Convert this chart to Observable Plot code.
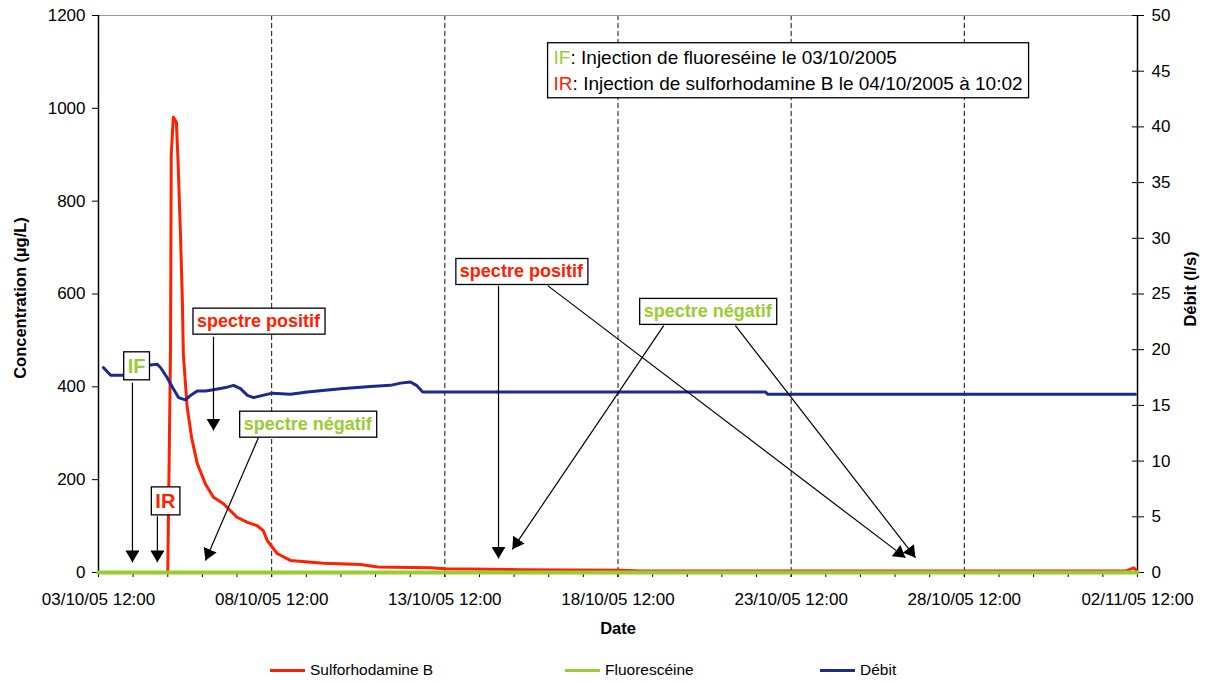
<!DOCTYPE html>
<html>
<head>
<meta charset="utf-8">
<script src="https://cdn.jsdelivr.net/npm/d3@7"></script>
<script src="https://cdn.jsdelivr.net/npm/@observablehq/plot@0.6"></script>
<style>
  body { margin: 0; background: #fff; font-family: "Liberation Sans", Arial, sans-serif; }
  #legend { position: relative; width: 1208px; height: 34px; font-size: 15.5px; color: #000; }
  #legend .item { position: absolute; top: 10px; display: flex; align-items: center; height: 20px; }
  #legend .sw { width: 35px; height: 3px; margin-right: 5px; }
</style>
</head>
<body>
<div id="chart"></div>
<div id="legend"></div>
<script>
// ---------- DATA ----------
const startDate = "2005-10-03T12:00:00Z";      // first x tick
const spanDays = 30;                             // to 02/11/05 12:00

// Sulforhodamine B (µg/L), day offsets from startDate
const sulfoDays = [2.00, 2.08, 2.10, 2.16, 2.25, 2.30, 2.37, 2.42, 2.45, 2.56, 2.69, 2.85, 3.09, 3.32, 3.61, 4.00, 4.30, 4.58, 4.76, 4.87, 5.16, 5.54, 6.50, 7.57, 8.06, 9.59, 10.0, 12.19, 15.07, 15.65, 29.66, 29.89, 29.97];
const sulfoValues = [0, 485, 900, 981, 970, 880, 720, 590, 470, 356, 290, 235, 190, 162, 148, 119, 108, 101, 90, 69, 41, 26, 20, 17, 12, 10, 8, 6, 5, 3, 3, 10, 4];

// Fluorescéine (µg/L)
const fluoDays = [0, 30];
const fluoValues = [0, 0];

// Débit (l/s)
const debitDays = [0.14, 0.35, 0.69, 1.00, 1.21, 1.44, 1.69, 1.79, 1.98, 2.14, 2.31, 2.51, 2.66, 2.85, 3.09, 3.32, 3.67, 3.90, 4.10, 4.30, 4.48, 4.74, 5.02, 5.54, 6.03, 6.99, 7.85, 8.43, 8.72, 9.01, 9.18, 9.36, 19.26, 19.32, 29.94];
const debitValues = [18.4, 17.7, 17.7, 17.9, 18.3, 18.6, 18.7, 18.4, 17.5, 16.6, 15.7, 15.5, 15.9, 16.3, 16.3, 16.4, 16.6, 16.8, 16.5, 15.9, 15.7, 15.9, 16.1, 16.0, 16.2, 16.5, 16.7, 16.8, 17.0, 17.1, 16.8, 16.2, 16.2, 16.0, 16.0];

// axis ticks
const concTicks = [0, 200, 400, 600, 800, 1000, 1200];
const debitTicks = [0, 5, 10, 15, 20, 25, 30, 35, 40, 45, 50];
const labelTickDays = [0, 5, 10, 15, 20, 25, 30];
const gridDays = [5, 10, 15, 20, 25];

// annotations (boxed labels) : day offset, concentration value
const noteLabels = ["IF", "IR", "spectre positif", "spectre négatif", "spectre positif", "spectre négatif"];
const noteKinds = ["F", "R", "R", "F", "R", "F"];
const noteDays = [1.10, 1.93, 4.62, 6.04, 12.21, 17.59];
const noteValues = [444, 153, 541, 319, 648, 562];
const noteBig = [true, true, false, false, false, false];

// arrows : from (day, value) to (day, value)
const arrowFromDays = [0.98, 1.70, 3.32, 4.62, 11.55, 12.97, 16.32, 18.39];
const arrowFromValues = [409, 121, 508, 291, 618, 618, 532, 532];
const arrowToDays = [0.98, 1.70, 3.32, 3.09, 11.55, 23.30, 11.95, 23.59];
const arrowToValues = [22, 22, 306, 26, 30, 32, 50, 32];

// injection note
const injectionNote = "IF: Injection de fluoreséine le 03/10/2005\nIR: Injection de sulforhodamine B le 04/10/2005 à 10:02";
const injectionNoteDay = 13.14;
const injectionNoteValue = 1086;

const seriesNames = ["Sulforhodamine B", "Fluorescéine", "Débit"];

// ---------- STYLE ----------
const RED = "#ff2000", GREEN = "#99cc33", BLUE = "#1c2a8c";
const kindColor = {R: RED, F: GREEN};
const DEBIT_FACTOR = 1200 / 50;

// ---------- BUILD ----------
const t0 = new Date(startDate).getTime();
const DAY = 864e5;
const at = d => new Date(t0 + d * DAY);

const sulfo = sulfoDays.map((d, i) => ({date: at(d), v: sulfoValues[i]}));
const fluo = fluoDays.map((d, i) => ({date: at(d), v: fluoValues[i]}));
const debit = debitDays.map((d, i) => ({date: at(d), v: debitValues[i] * DEBIT_FACTOR}));
const notes = noteLabels.map((l, i) => ({label: l, color: kindColor[noteKinds[i]], date: at(noteDays[i]), v: noteValues[i], big: noteBig[i]}));
const arrows = arrowFromDays.map((d, i) => ({x1: at(d), y1: arrowFromValues[i], x2: at(arrowToDays[i]), y2: arrowToValues[i]}));
const dailyTicks = d3.range(0, spanDays + 1).map(at);
const labelTicks = labelTickDays.map(at);
const fmt = d3.utcFormat("%d/%m/%y %H:%M");

const plot = Plot.plot({
  width: 1208,
  height: 650,
  marginLeft: 98,
  marginRight: 71,
  marginTop: 15,
  marginBottom: 78,
  style: {fontFamily: '"Liberation Sans", Arial, sans-serif', fontSize: "17px", color: "#000", background: "#fff"},
  x: {type: "utc", domain: [at(0), at(spanDays)]},
  y: {domain: [0, 1200]},
  marks: [
    Plot.ruleX(gridDays.map(at), {stroke: "#111", strokeWidth: 1, strokeDasharray: "5,3"}),
    Plot.ruleY([1200], {stroke: "#999", strokeWidth: 1}),
    Plot.ruleY([0], {stroke: "#000", strokeWidth: 1}),
    Plot.ruleX([at(0), at(spanDays)], {stroke: "#000", strokeWidth: 1.5}),
    Plot.axisY({anchor: "left", ticks: concTicks, tickFormat: d => String(d), tickSize: 6, tickPadding: 7, label: null}),
    Plot.axisY({anchor: "right", ticks: debitTicks.map(d => d * DEBIT_FACTOR), tickFormat: d => String(d / DEBIT_FACTOR), tickSize: 12, dx: -6, tickPadding: 8, label: null}),
    Plot.axisX({ticks: dailyTicks, tickSize: 5, tickFormat: () => "", label: null}),
    Plot.axisX({ticks: labelTicks, tickSize: 5, tickPadding: 15, tickFormat: fmt, label: null}),
    Plot.text(["Concentration (µg/L)"], {frameAnchor: "left", textAnchor: "middle", rotate: -90, dx: -78, dy: 4, fontWeight: "bold", fontSize: 16.5}),
    Plot.text(["Débit (l/s)"], {frameAnchor: "right", textAnchor: "middle", rotate: -90, dx: 53, dy: -5, fontWeight: "bold", fontSize: 16.5}),
    Plot.text(["Date"], {frameAnchor: "bottom", dy: 61, fontWeight: "bold", fontSize: 16.5}),
    Plot.line(sulfo, {x: "date", y: "v", stroke: RED, strokeWidth: 3, curve: "linear"}),
    Plot.line(fluo, {x: "date", y: "v", stroke: GREEN, strokeWidth: 4}),
    Plot.line(debit, {x: "date", y: "v", stroke: BLUE, strokeWidth: 3, curve: "linear"}),
    Plot.link(arrows, {x1: "x1", y1: "y1", x2: "x2", y2: "y2", stroke: "#000", strokeWidth: 1.2, ariaDescription: "arrows"}),
    Plot.text(notes.filter(d => d.big), {x: "date", y: "v", text: "label", fill: "color", fontSize: 20, fontWeight: "bold", ariaDescription: "box"}),
    Plot.text(notes.filter(d => !d.big), {x: "date", y: "v", text: "label", fill: "color", fontSize: 18, fontWeight: "bold", ariaDescription: "box"}),
    Plot.text([injectionNote], {x: () => at(injectionNoteDay), y: () => injectionNoteValue, textAnchor: "start", lineAnchor: "middle", lineHeight: 1.37, fontSize: 19, fill: "#000", ariaDescription: "note"})
  ]
});

document.getElementById("chart").append(plot);

// filled arrowheads
const ns = "http://www.w3.org/2000/svg";
const defs = document.createElementNS(ns, "defs");
defs.innerHTML = '<marker id="tri" viewBox="0 -6 10 12" refX="10" refY="0" markerWidth="12" markerHeight="14" markerUnits="userSpaceOnUse" orient="auto"><path d="M0,-6L10,0L0,6Z" fill="#000"/></marker>';
plot.prepend(defs);
plot.querySelectorAll('g[aria-description="arrows"] path, g[aria-description="arrows"] line').forEach(p => p.setAttribute("marker-end", "url(#tri)"));

// colored prefixes in the injection note
plot.querySelectorAll('g[aria-description="note"] tspan').forEach(ts => {
  const s = ts.textContent;
  const key = s.slice(0, 2);
  if (key === "IF" || key === "IR") {
    ts.textContent = "";
    const a = document.createElementNS(ns, "tspan");
    a.setAttribute("fill", key === "IF" ? GREEN : RED);
    a.textContent = key;
    ts.append(a);
    ts.append(document.createTextNode(s.slice(2)));
  }
});

// boxes behind annotation texts
function boxTexts(sel, px, py) {
  plot.querySelectorAll(sel).forEach(t => {
    const b = t.getBBox();
    const r = document.createElementNS(ns, "rect");
    r.setAttribute("x", b.x - px);
    r.setAttribute("y", b.y - py);
    r.setAttribute("width", b.width + 2 * px);
    r.setAttribute("height", b.height + 2 * py);
    r.setAttribute("fill", "#fff");
    r.setAttribute("stroke", "#000");
    r.setAttribute("stroke-width", "1.3");
    if (t.getAttribute("transform")) r.setAttribute("transform", t.getAttribute("transform"));
    t.parentNode.insertBefore(r, t);
  });
}
boxTexts('g[aria-description="box"] text', 4, 3);
boxTexts('g[aria-description="note"] text', 6, 4);

// legend
const legend = document.getElementById("legend");
const items = [[seriesNames[0], RED, 270], [seriesNames[1], GREEN, 565], [seriesNames[2], BLUE, 820]];
items.forEach(([name, color, left]) => {
  const it = document.createElement("div");
  it.className = "item";
  it.style.left = left + "px";
  it.innerHTML = `<div class="sw" style="background:${color}"></div><span>${name}</span>`;
  legend.append(it);
});
</script>
</body>
</html>
